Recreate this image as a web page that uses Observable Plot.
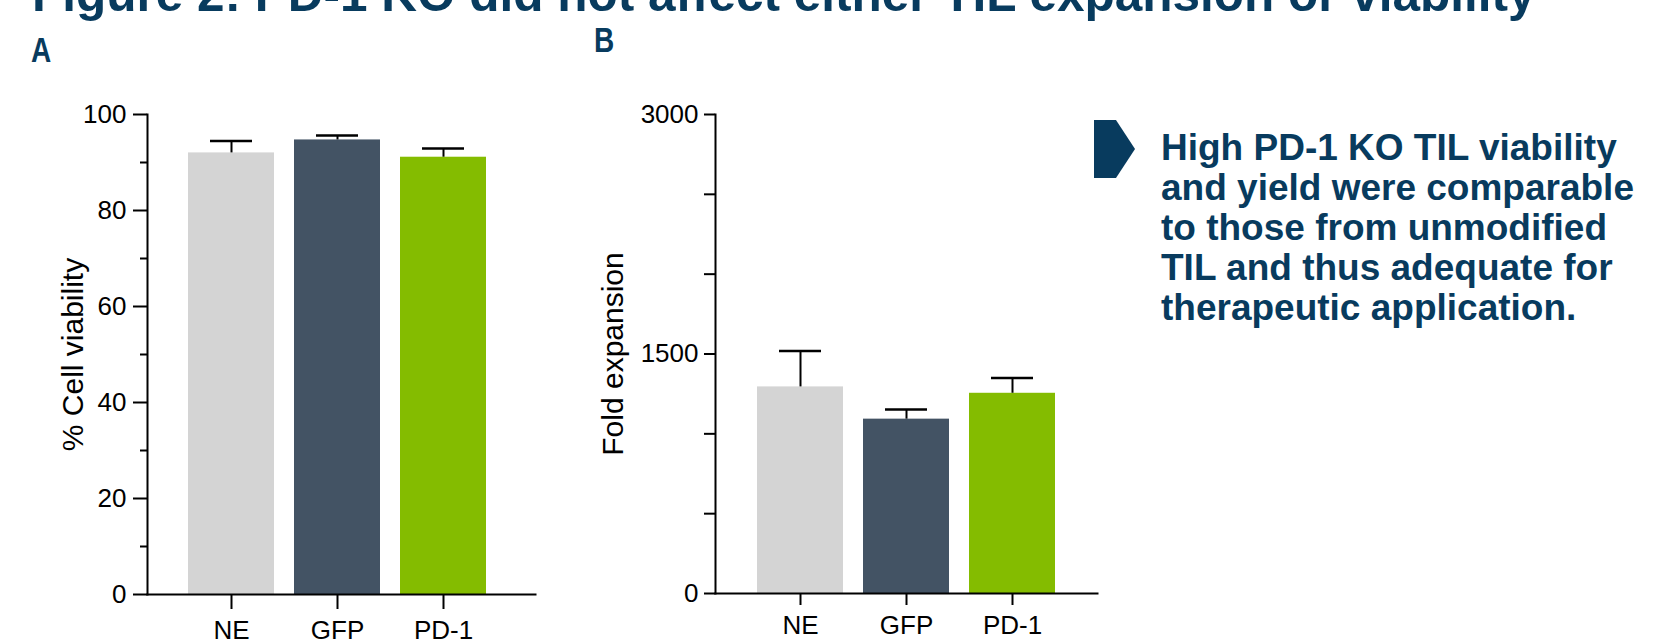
<!DOCTYPE html>
<html>
<head>
<meta charset="utf-8">
<script src="https://cdn.jsdelivr.net/npm/d3@7"></script>
<script src="https://cdn.jsdelivr.net/npm/@observablehq/plot@0.6"></script>
<style>
  html, body { margin: 0; padding: 0; background: #fff; }
  body {
    width: 1660px; height: 644px; position: relative; overflow: hidden;
    font-family: "Liberation Sans", Arial, sans-serif;
  }
  .title {
    position: absolute; left: 32px; top: -30px;
    font-size: 49.5px; line-height: 48px; font-weight: bold;
    color: #083b5e; white-space: nowrap;
  }
  .letter {
    position: absolute; font-size: 35px; line-height: 35px; font-weight: bold;
    color: #083b5e; transform: scaleX(0.8); transform-origin: left top;
  }
  #plotA, #plotB { position: absolute; top: 0; }
  #plotA { left: 0; }
  #plotB { left: 560px; }
  .chevron { position: absolute; left: 1094px; top: 120px; }
  .callout {
    position: absolute; left: 1161px; top: 128px;
    font-size: 37px; line-height: 40px; font-weight: bold;
    color: #083b5e; white-space: nowrap;
  }
</style>
</head>
<body>
<div class="title">Figure 2: PD-1 KO did not affect either TIL expansion or viability</div>
<div class="letter" style="left:31px; top:32px;">A</div>
<div class="letter" style="left:594px; top:22px;">B</div>
<div id="plotA"></div>
<div id="plotB"></div>
<svg class="chevron" width="42" height="58" viewBox="0 0 42 58">
  <polygon points="0,0 22,0 41,29 22,58 0,58" fill="#083b5e"/>
</svg>
<div class="callout">High PD-1 KO TIL viability<br>and yield were comparable<br>to those from unmodified<br>TIL and thus adequate for<br>therapeutic application.</div>
<script>
// Groups and their bar colours
const groups = ["NE", "GFP", "PD-1"];
const groupColors = ["#d4d4d4", "#435364", "#84bc00"];

// Panel A: % cell viability (mean and upper error)
const viability = [92.0, 94.7, 91.1];
const viabilityErr = [2.5, 0.9, 1.8];
const viabilityTicks = [0, 20, 40, 60, 80, 100];
const viabilityMinor = [10, 30, 50, 70, 90];

// Panel B: fold expansion (mean and upper error)
const expansion = [1294, 1092, 1254];
const expansionErr = [225, 60, 96];
const expansionTicks = [0, 1500, 3000];
const expansionMinor = [500, 1000, 2000, 2500];

const font = "'Liberation Sans', Arial, sans-serif";
const plain = d3.format("d");

function barPanel({values, errs, yDomain, ticks, minor, label, majorSize, minorSize, tickPad,
                   xTickSize, xTickPad, labelOffset, margins, xScale}) {
  const rows = groups.map((g, i) => ({group: g, value: values[i], hi: values[i] + errs[i]}));
  return Plot.plot({
    width: 560,
    height: 644,
    ...margins,
    style: {fontFamily: font, fontSize: "26px", color: "#000", background: "transparent", overflow: "visible"},
    x: {domain: groups, label: null, ...xScale},
    y: {domain: yDomain, label: null},
    color: {domain: groups, range: groupColors},
    marks: [
      Plot.barY(rows, {x: "group", y: "value", fill: "group"}),
      Plot.ruleX(rows, {x: "group", y1: "value", y2: "hi", stroke: "#000", strokeWidth: 2}),
      Plot.tickY(rows, {x: "group", y: "hi", stroke: "#000", strokeWidth: 2.5, insetLeft: 22, insetRight: 22}),
      Plot.axisY(ticks, {
        tickSize: majorSize, tickPadding: tickPad, strokeWidth: 2, fontSize: 26, tickFormat: plain,
        label, labelAnchor: "center", labelOffset, labelArrow: "none"
      }),
      Plot.axisY(minor, {tickSize: minorSize, strokeWidth: 2, tickFormat: () => "", label: null}),
      Plot.axisX({tickSize: xTickSize, tickPadding: xTickPad, strokeWidth: 2, fontSize: 26, label: null}),
      Plot.frame({anchor: "left", strokeWidth: 2}),
      Plot.frame({anchor: "bottom", strokeWidth: 2})
    ]
  });
}

const chartA = barPanel({
  values: viability, errs: viabilityErr, yDomain: [0, 100],
  ticks: viabilityTicks, minor: viabilityMinor, label: "% Cell viability",
  majorSize: 14, minorSize: 7, tickPad: 7, xTickSize: 15, xTickPad: 11, labelOffset: 86,
  margins: {marginLeft: 147, marginRight: 25, marginTop: 114, marginBottom: 50},
  xScale: {paddingInner: 0.193, paddingOuter: 0.41, align: 0.45}
});
chartA.querySelectorAll("[aria-label='y-axis label']").forEach(n => n.setAttribute("font-size", 30));
document.getElementById("plotA").append(chartA);

const chartB = barPanel({
  values: expansion, errs: expansionErr, yDomain: [0, 3000],
  ticks: expansionTicks, minor: expansionMinor, label: "Fold expansion",
  majorSize: 11, minorSize: 11, tickPad: 6, xTickSize: 12, xTickPad: 10, labelOffset: 114,
  margins: {marginLeft: 155, marginRight: 23, marginTop: 114, marginBottom: 51},
  xScale: {paddingInner: 0.193, paddingOuter: 0.387}
});
chartB.querySelectorAll("[aria-label='y-axis label']").forEach(n => n.setAttribute("font-size", 30));
document.getElementById("plotB").append(chartB);
</script>
</body>
</html>
